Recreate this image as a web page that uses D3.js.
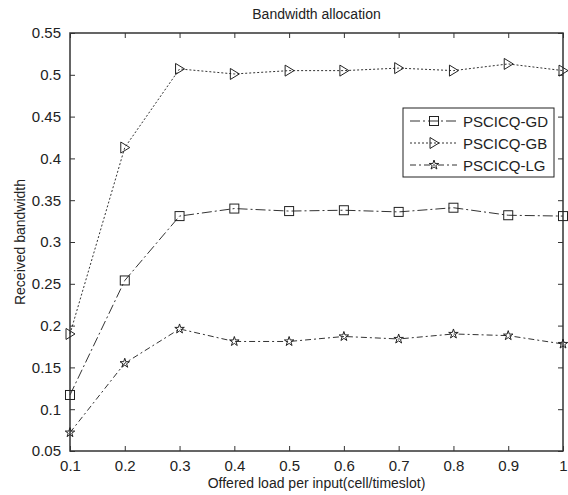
<!DOCTYPE html>
<html>
<head>
<meta charset="utf-8">
<script src="https://cdn.jsdelivr.net/npm/d3@7.9.0/dist/d3.min.js"></script>
<style>
  body { margin: 0; background: #fff; }
  svg { display: block; font-family: Arial, "Liberation Sans", sans-serif; }
  .tick text { font-family: "Liberation Sans Narrow", "Arial Narrow", Arial, sans-serif; }
</style>
</head>
<body>
<svg id="chart" width="568" height="495"></svg>
<script>
// data
const loads = [0.1, 0.2, 0.3, 0.4, 0.5, 0.6, 0.7, 0.8, 0.9, 1.0];
const gdValues = [0.117, 0.254, 0.331, 0.340, 0.337, 0.338, 0.336, 0.341, 0.332, 0.331];
const gbValues = [0.190, 0.413, 0.507, 0.501, 0.505, 0.505, 0.508, 0.505, 0.513, 0.505];
const lgValues = [0.072, 0.155, 0.196, 0.181, 0.181, 0.187, 0.184, 0.190, 0.188, 0.178];
const seriesNames = ['PSCICQ-GD', 'PSCICQ-GB', 'PSCICQ-LG'];
const xTicks = [0.1, 0.2, 0.3, 0.4, 0.5, 0.6, 0.7, 0.8, 0.9, 1];
const yTicks = [0.05, 0.1, 0.15, 0.2, 0.25, 0.3, 0.35, 0.4, 0.45, 0.5, 0.55];

const series = [
  { name: seriesNames[0], values: gdValues, marker: 'square', dash: '10,3,2,3' },
  { name: seriesNames[1], values: gbValues, marker: 'triangle', dash: '2,2' },
  { name: seriesNames[2], values: lgValues, marker: 'star', dash: '6,3,2,3' },
];

const svg = d3.select('#chart');
const plotL = 70, plotR = 563, plotT = 33, plotB = 451;

const x = d3.scaleLinear().domain([0.1, 1]).range([plotL, plotR]);
const y = d3.scaleLinear().domain([0.05, 0.55]).range([plotB, plotT]);

const fmt = v => String(+v.toFixed(2));
const ink = '#333';

// axes with inward ticks on all four sides
const tickLen = 5;
svg.append('g')
  .attr('transform', `translate(0,${plotB})`)
  .call(d3.axisBottom(x).tickValues(xTicks).tickFormat(fmt).tickSizeInner(-tickLen).tickSizeOuter(0).tickPadding(9));
svg.append('g')
  .attr('transform', `translate(0,${plotT})`)
  .call(d3.axisTop(x).tickValues(xTicks).tickFormat('').tickSizeInner(-tickLen).tickSizeOuter(0));
svg.append('g')
  .attr('transform', `translate(${plotL},0)`)
  .call(d3.axisLeft(y).tickValues(yTicks).tickFormat(fmt).tickSizeInner(-tickLen).tickSizeOuter(0).tickPadding(9));
svg.append('g')
  .attr('transform', `translate(${plotR},0)`)
  .call(d3.axisRight(y).tickValues(yTicks).tickFormat('').tickSizeInner(-tickLen).tickSizeOuter(0));

svg.selectAll('.domain').remove();
svg.selectAll('.tick line').attr('stroke', ink);
svg.selectAll('.tick text').attr('font-size', 15).attr('fill', '#222');

svg.append('rect')
  .attr('x', plotL).attr('y', plotT)
  .attr('width', plotR - plotL).attr('height', plotB - plotT)
  .attr('fill', 'none').attr('stroke', ink).attr('stroke-width', 1.5);

// markers
const star = d3.symbol().type(d3.symbolStar).size(28);
function drawMarker(g, type) {
  if (type === 'square') {
    g.append('rect').attr('x', -4.5).attr('y', -4.5).attr('width', 9).attr('height', 9);
  } else if (type === 'triangle') {
    g.append('path').attr('d', 'M-4,-5.5L5,0L-4,5.5Z');
  } else {
    g.append('path').attr('d', star());
  }
  g.attr('fill', 'none').attr('stroke', '#222').attr('stroke-width', 1);
}

const line = d3.line().x((d, i) => x(loads[i])).y(d => y(d));

series.forEach(s => {
  svg.append('path')
    .attr('d', line(s.values))
    .attr('fill', 'none')
    .attr('stroke', '#333')
    .attr('stroke-width', 1)
    .attr('stroke-dasharray', s.dash);
  s.values.forEach((v, i) => {
    const g = svg.append('g').attr('transform', `translate(${x(loads[i])},${y(v)})`);
    drawMarker(g, s.marker);
  });
});

// legend
const legend = svg.append('g');
legend.append('rect')
  .attr('x', 403).attr('y', 108).attr('width', 151).attr('height', 69)
  .attr('fill', '#fff').attr('stroke', '#222').attr('stroke-width', 1);
series.forEach((s, i) => {
  const ly = 121 + i * 22;
  legend.append('line')
    .attr('x1', 410).attr('x2', 457).attr('y1', ly).attr('y2', ly)
    .attr('stroke', '#333').attr('stroke-width', 1).attr('stroke-dasharray', s.dash);
  const g = legend.append('g').attr('transform', `translate(434,${ly})`);
  drawMarker(g, s.marker);
  legend.append('text')
    .attr('x', 463).attr('y', ly + 5.5)
    .attr('font-size', 15).attr('fill', '#222')
    .text(s.name);
});

// titles
svg.append('text')
  .attr('x', (plotL + plotR) / 2).attr('y', 19)
  .attr('text-anchor', 'middle').attr('font-size', 14).attr('fill', '#222')
  .text('Bandwidth allocation');
svg.append('text')
  .attr('x', (plotL + plotR) / 2).attr('y', 488)
  .attr('text-anchor', 'middle').attr('font-size', 14).attr('fill', '#222')
  .text('Offered load per input(cell/timeslot)');
svg.append('text')
  .attr('transform', `translate(25,${(plotT + plotB) / 2}) rotate(-90)`)
  .attr('text-anchor', 'middle').attr('font-size', 14).attr('fill', '#222')
  .text('Received bandwidth');
</script>
</body>
</html>
